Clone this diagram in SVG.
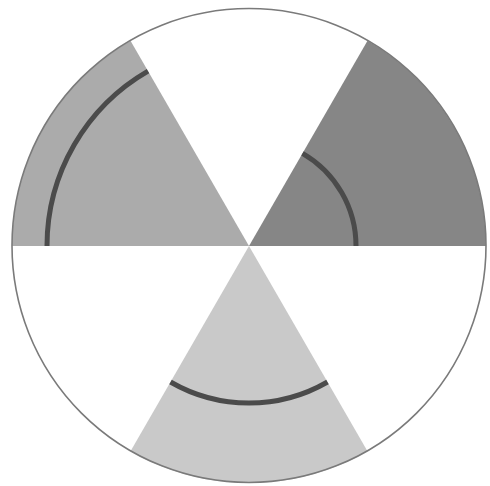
<svg xmlns="http://www.w3.org/2000/svg" width="490" height="486" viewBox="0 0 490 486">
  <style>
    .arc { fill: none; stroke: #4b4b4b; stroke-width: 5; }
    .outline { fill: none; stroke: #7a7a7a; stroke-width: 1.6; }
  </style>
  <rect x="0" y="0" width="490" height="486" fill="#ffffff"/>
  <g id="sector-upper-left">
    <path d="M249,246 L12,246 A237,237 0 0 1 130.5,40.8 Z" fill="#ababab"/>
    <path class="arc" d="M47,246 A202,202 0 0 1 148,71.1"/>
  </g>
  <g id="sector-upper-right">
    <path d="M249,246 L367.5,40.8 A237,237 0 0 1 486,246 Z" fill="#868686"/>
    <path class="arc" d="M302.5,153.3 A107,107 0 0 1 356,246"/>
  </g>
  <g id="sector-bottom">
    <path d="M249,246 L130.5,451.2 A237,237 0 0 0 367.5,451.2 Z" fill="#c9c9c9"/>
    <path class="arc" d="M170.5,382 A157,157 0 0 0 327.5,382"/>
  </g>
  <g id="outline">
    <circle class="outline" cx="249" cy="245.5" r="237"/>
  </g>
</svg>
